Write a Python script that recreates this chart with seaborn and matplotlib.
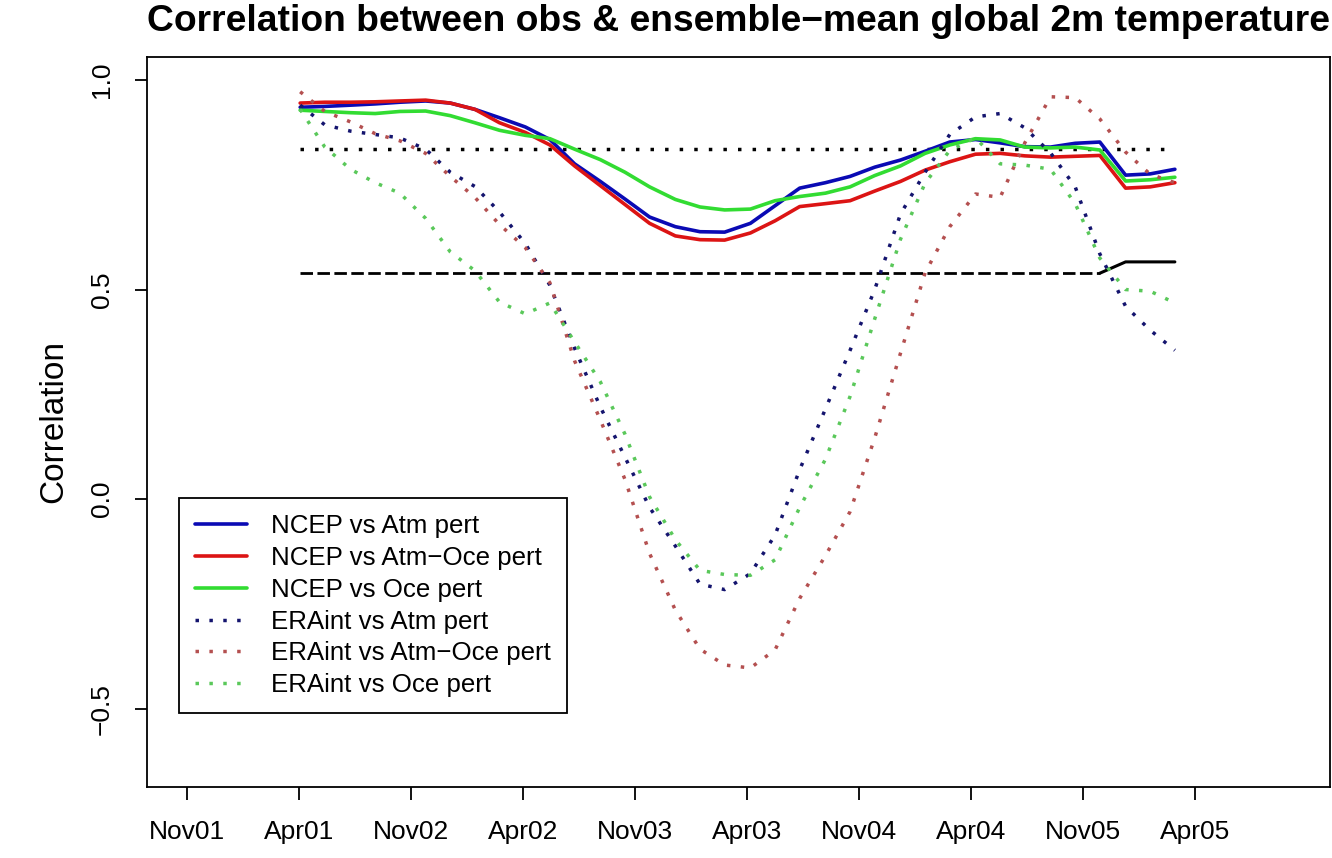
import numpy as np
import pandas as pd
import matplotlib
matplotlib.use("Agg")
import matplotlib.pyplot as plt
import seaborn as sns

# ---- data ----
tick_labels = ["Nov01", "Apr01", "Nov02", "Apr02", "Nov03", "Apr03",
               "Nov04", "Apr04", "Nov05", "Apr05"]
x = [1.01, 1.23, 1.46, 1.68, 1.90, 2.13, 2.35, 2.57, 2.79, 3.02, 3.24, 3.46,
     3.69, 3.91, 4.13, 4.36, 4.58, 4.80, 5.03, 5.25, 5.47, 5.70, 5.92, 6.14,
     6.37, 6.59, 6.81, 7.04, 7.26, 7.48, 7.71, 7.93, 8.15, 8.38, 8.60, 8.82]

ncep_atm = [0.935, 0.937, 0.940, 0.943, 0.947, 0.950, 0.945, 0.930, 0.910, 0.888,
            0.858, 0.800, 0.758, 0.716, 0.673, 0.650, 0.638, 0.637, 0.658, 0.700,
            0.742, 0.755, 0.770, 0.792, 0.809, 0.830, 0.852, 0.858, 0.850, 0.841,
            0.840, 0.849, 0.852, 0.773, 0.776, 0.787]
ncep_atmoce = [0.945, 0.947, 0.947, 0.948, 0.950, 0.952, 0.945, 0.930, 0.898, 0.875,
               0.845, 0.795, 0.748, 0.703, 0.658, 0.628, 0.619, 0.618, 0.635, 0.664,
               0.698, 0.705, 0.712, 0.735, 0.758, 0.785, 0.805, 0.823, 0.825, 0.819,
               0.816, 0.818, 0.820, 0.742, 0.745, 0.755]
ncep_oce = [0.928, 0.925, 0.922, 0.920, 0.925, 0.926, 0.915, 0.898, 0.880, 0.868,
            0.860, 0.835, 0.810, 0.780, 0.745, 0.715, 0.697, 0.690, 0.692, 0.712,
            0.722, 0.730, 0.745, 0.772, 0.795, 0.825, 0.845, 0.860, 0.857, 0.840,
            0.838, 0.840, 0.833, 0.759, 0.762, 0.768]
era_atm = [0.940, 0.893, 0.878, 0.870, 0.862, 0.835, 0.780, 0.746, 0.685, 0.610,
           0.510, 0.360, 0.220, 0.100, -0.020, -0.112, -0.203, -0.216, -0.178, -0.086,
           0.070, 0.215, 0.355, 0.500, 0.680, 0.780, 0.870, 0.912, 0.920, 0.886,
           0.826, 0.745, 0.585, 0.460, 0.403, 0.355]
era_atmoce = [0.972, 0.925, 0.900, 0.872, 0.855, 0.825, 0.770, 0.720, 0.655, 0.600,
              0.516, 0.330, 0.189, 0.047, -0.130, -0.265, -0.358, -0.396, -0.403, -0.360,
              -0.237, -0.135, -0.030, 0.146, 0.348, 0.540, 0.650, 0.728, 0.720, 0.850,
              0.960, 0.958, 0.907, 0.828, 0.775, 0.755]
era_oce = [0.930, 0.840, 0.787, 0.755, 0.730, 0.670, 0.590, 0.545, 0.470, 0.442,
           0.468, 0.375, 0.280, 0.155, 0.005, -0.097, -0.170, -0.180, -0.182, -0.145,
           -0.020, 0.095, 0.245, 0.430, 0.620, 0.754, 0.832, 0.862, 0.800, 0.797,
           0.787, 0.705, 0.575, 0.500, 0.496, 0.468]
sig_upper = [0.835] * 36
sig_lower = [0.539] * 33 + [0.566] * 3

series = [
    ("NCEP vs Atm pert", ncep_atm, "#0a0ab4", "-"),
    ("NCEP vs Atm\u2212Oce pert", ncep_atmoce, "#dc1414", "-"),
    ("NCEP vs Oce pert", ncep_oce, "#32dc32", "-"),
    ("ERAint vs Atm pert", era_atm, "#14146e", (0, (1, 3))),
    ("ERAint vs Atm\u2212Oce pert", era_atmoce, "#b45050", (0, (1, 3))),
    ("ERAint vs Oce pert", era_oce, "#5ac85a", (0, (1, 3))),
]

# ---- style ----
sns.set_theme(style="ticks")
plt.rcParams["font.family"] = ["Liberation Sans", "DejaVu Sans"]
for k in ["text.color", "axes.labelcolor", "xtick.color", "ytick.color",
          "axes.edgecolor"]:
    plt.rcParams[k] = "black"
plt.rcParams["axes.linewidth"] = 1.3

fig = plt.figure(figsize=(13.32, 8.58), dpi=100)
ax = fig.add_axes([0.1104, 0.0828, 0.8881, 0.8508])

# reference lines
sns.lineplot(x=x, y=sig_upper, ax=ax, color="black", linewidth=2.5,
             linestyle=(0, (1, 3.2)), sort=False, legend=False)
sns.lineplot(x=x[:33], y=sig_lower[:33], ax=ax, color="black", linewidth=2.0,
             linestyle=(0, (4.5, 1.6)), sort=False, legend=False)
sns.lineplot(x=x[32:], y=sig_lower[32:], ax=ax, color="black", linewidth=2.2,
             linestyle="-", sort=False, legend=False)

for name, vals, col, ls in series:
    lw = 2.6 if ls == "-" else 2.5
    sns.lineplot(x=x, y=vals, ax=ax, color=col, linewidth=lw, linestyle=ls,
                 sort=False, label=name)

ax.set_xlim(-0.357, 10.205)
ax.set_ylim(-0.687, 1.055)
ax.set_xticks(range(len(tick_labels)))
ax.set_xticklabels(tick_labels, fontsize=19)
ax.set_yticks([-0.5, 0.0, 0.5, 1.0])
ax.set_yticklabels(["\u22120.5", "0.0", "0.5", "1.0"], rotation=90,
                   va="center", fontsize=19)
ax.tick_params(axis="both", direction="out", length=9, width=1.3,
               color="black", pad=15, labelcolor="black")
for s in ax.spines.values():
    s.set_visible(True)
    s.set_color("black")
    s.set_linewidth(1.3)

ax.set_xlabel("")
ax.set_ylabel("Correlation", fontsize=24, color="black")
ax.yaxis.set_label_coords(-0.066, 0.5)

fig.text(0.5548, 0.975,
         "Correlation between obs & ensemble\u2212mean global 2m temperature",
         fontsize=26.8, fontweight="bold", ha="center", va="center",
         color="black")

h, l = ax.get_legend_handles_labels()
leg = ax.legend(h, l, loc="lower left", bbox_to_anchor=(0.027, 0.101),
                borderaxespad=0, fontsize=18.6, frameon=True, fancybox=False,
                edgecolor="black", framealpha=1, handlelength=2.0,
                handletextpad=0.95, labelspacing=0.3, borderpad=0.62)
leg.get_frame().set_linewidth(1.3)
for t in leg.get_texts():
    t.set_color("black")

fig.savefig("out.png", dpi=100)
